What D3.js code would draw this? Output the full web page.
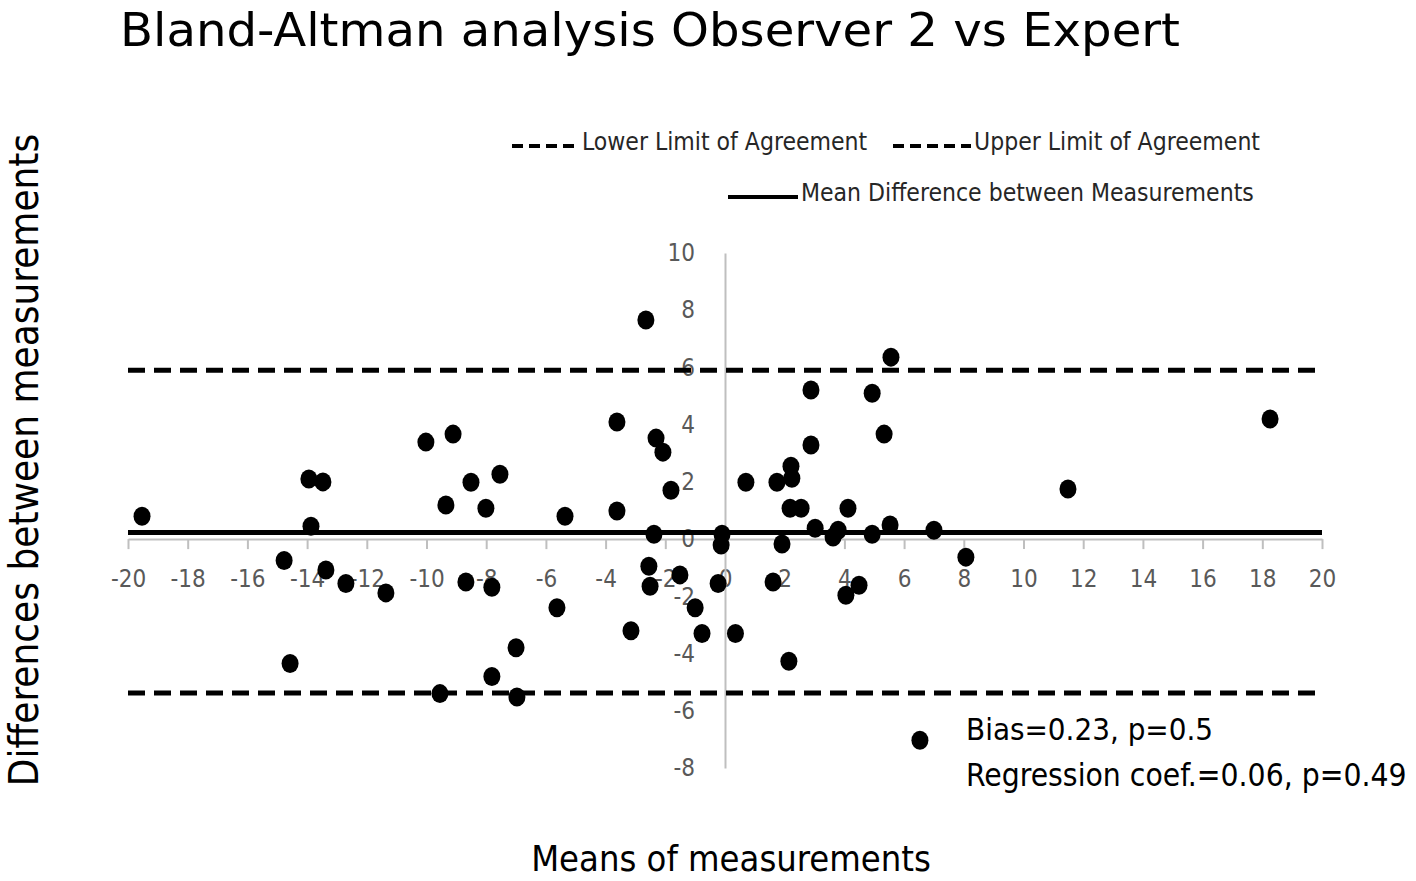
<!DOCTYPE html>
<html>
<head>
<meta charset="utf-8">
<script src="https://cdn.jsdelivr.net/npm/d3@7"></script>
<style>
  body { margin: 0; background: #fff; }
  text { font-family: "Liberation Sans Narrow", "DejaVu Sans Condensed", sans-serif; }
</style>
</head>
<body>
<div id="chart"></div>
<script>
var means = [-19.53, -13.94, -13.47, -13.87, -14.77, -13.37, -12.70, -11.36, -14.57, -10.02,
  -9.11, -9.35, -8.51, -8.01, -7.54, -8.68, -7.81, -9.55, -7.81, -7.00,
  -6.97, -5.36, -5.63, -3.62, -3.62, -3.15, -2.65, -2.31, -2.08, -1.81,
  -2.38, -2.55, -2.51, -1.51, -1.00, -0.77, -0.23, -0.10, -0.13, 0.35,
  0.70, 1.74, 1.61, 1.91, 2.21, 2.24, 2.18, 2.55, 2.14, 2.88,
  2.88, 3.02, 3.62, 3.79, 4.12, 4.05, 4.49, 4.93, 4.93, 5.33,
  5.53, 5.56, 7.00, 8.07, 11.49, 18.26, 6.53];
var diffs = [0.80, 2.10, 2.00, 0.45, -0.75, -1.08, -1.55, -1.88, -4.35, 3.39,
  3.67, 1.19, 1.99, 1.08, 2.27, -1.50, -1.68, -5.40, -4.80, -3.80,
  -5.52, 0.80, -2.40, 4.09, 0.98, -3.20, 7.66, 3.53, 3.04, 1.71,
  0.17, -0.95, -1.65, -1.25, -2.40, -3.30, -1.55, 0.17, -0.21, -3.30,
  1.99, 1.99, -1.50, -0.17, 2.55, 2.13, 1.08, 1.08, -4.27, 5.21,
  3.29, 0.38, 0.07, 0.31, 1.08, -1.96, -1.61, 0.17, 5.10, 3.67,
  0.49, 6.36, 0.31, -0.63, 1.75, 4.20, -7.03];

var meanDiff = 0.23, upperLoA = 5.9, lowerLoA = -5.38;
var xTicks = d3.range(-20, 21, 2);
var yTicks = d3.range(-8, 11, 2);

var width = 1416, height = 881;

var svg = d3.select("#chart").append("svg")
  .attr("width", width)
  .attr("height", height);

var x = d3.scaleLinear().domain([-20, 20]).range([128, 1322]);
var y = d3.scaleLinear().domain([-8, 10]).range([768, 253]);

// title
svg.append("text")
  .attr("x", 120).attr("y", 46)
  .attr("font-size", 47)
  .attr("textLength", 1060)
  .attr("lengthAdjust", "spacingAndGlyphs")
  .attr("fill", "#000")
  .text("Bland-Altman analysis Observer 2 vs Expert");

// axes through the origin
var plain = function(d) { return String(d); };

var xAxis = svg.append("g")
  .attr("transform", "translate(0," + y(0) + ")")
  .call(d3.axisBottom(x).tickValues(xTicks).tickFormat(plain).tickSize(10).tickSizeOuter(0).tickPadding(21));
xAxis.select(".domain").attr("stroke", "#bfbfbf").attr("stroke-width", 2);
xAxis.selectAll(".tick line").attr("stroke", "#bfbfbf").attr("stroke-width", 2);
xAxis.selectAll(".tick text")
  .attr("font-size", 24)
  .attr("fill", "#595959")
  .attr("font-family", "Liberation Sans Narrow, DejaVu Sans Condensed, sans-serif");

var yAxis = svg.append("g")
  .attr("transform", "translate(" + x(0) + ",0)")
  .call(d3.axisLeft(y).tickValues(yTicks).tickFormat(plain).tickSize(0).tickPadding(30));
yAxis.select(".domain").attr("stroke", "#bfbfbf").attr("stroke-width", 2);
yAxis.selectAll(".tick text")
  .attr("font-size", 24)
  .attr("fill", "#595959")
  .attr("font-family", "Liberation Sans Narrow, DejaVu Sans Condensed, sans-serif");

// limits of agreement and mean difference
[upperLoA, lowerLoA].forEach(function(v) {
  svg.append("line")
    .attr("x1", x(-20)).attr("x2", x(20))
    .attr("y1", y(v)).attr("y2", y(v))
    .attr("stroke", "#000").attr("stroke-width", 5)
    .attr("stroke-dasharray", "17,9");
});
svg.append("line")
  .attr("x1", x(-20)).attr("x2", x(20))
  .attr("y1", y(meanDiff)).attr("y2", y(meanDiff))
  .attr("stroke", "#000").attr("stroke-width", 5);

// points
svg.selectAll(".pt")
  .data(means)
  .enter().append("ellipse")
  .attr("class", "pt")
  .attr("cx", function(d) { return x(d); })
  .attr("cy", function(d, i) { return y(diffs[i]); })
  .attr("rx", 8.5)
  .attr("ry", 9.5)
  .attr("fill", "#000");

// legend
function legendItem(x0, x1, yy, dashed, label) {
  svg.append("line")
    .attr("x1", x0).attr("x2", x1).attr("y1", yy).attr("y2", yy)
    .attr("stroke", "#000").attr("stroke-width", 4)
    .attr("stroke-dasharray", dashed ? "11,6" : null);
  svg.append("text")
    .attr("x", x1 + 3).attr("y", yy + 4)
    .attr("font-size", 24.5)
    .attr("fill", "#262626")
    .text(label);
}
legendItem(512, 579, 146, true, "Lower Limit of Agreement");
legendItem(893, 971, 146, true, "Upper Limit of Agreement");
legendItem(728, 798, 197, false, "Mean Difference between Measurements");

// annotations
svg.append("text").attr("x", 966).attr("y", 740).attr("font-size", 31).text("Bias=0.23, p=0.5");
svg.append("text").attr("x", 966).attr("y", 786).attr("font-size", 31.5).text("Regression coef.=0.06, p=0.49");

// axis titles
svg.append("text")
  .attr("x", 731).attr("y", 871)
  .attr("text-anchor", "middle")
  .attr("font-size", 36)
  .text("Means of measurements");
svg.append("text")
  .attr("transform", "translate(38,460) rotate(-90)")
  .attr("text-anchor", "middle")
  .attr("font-size", 40)
  .text("Differences between measurements");
</script>
</body>
</html>
